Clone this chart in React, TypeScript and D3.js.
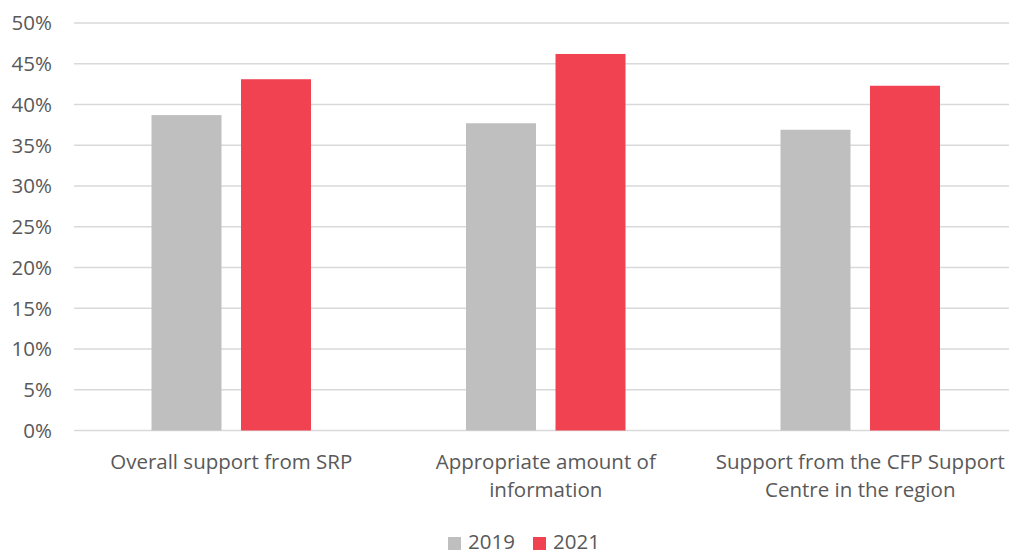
import React from 'react';
import * as d3 from 'd3';

const categories = [
  ['Overall support from SRP'],
  ['Appropriate amount of', 'information'],
  ['Support from the CFP Support', 'Centre in the region'],
];
const years = ['2019', '2021'];
const values2019 = [38.7, 37.7, 36.9];
const values2021 = [43.1, 46.2, 42.3];
const yTicks = [0, 5, 10, 15, 20, 25, 30, 35, 40, 45, 50];

const WIDTH = 1009;
const HEIGHT = 551;
const LEFT = 74;
const RIGHT = 1017.5;
const TOP = 23;
const BOTTOM = 430.5;
const FONT = '"Open Sans", Lato, sans-serif';
const TEXT = '#595959';
const colors = { '2019': '#BFBFBF', '2021': '#F04250' };

export default function App() {
  const x0 = d3.scaleBand<number>()
    .domain(categories.map((_, i) => i))
    .range([LEFT, RIGHT]);
  const x1 = d3.scaleBand<string>()
    .domain(years)
    .range([77.5, 237])
    .paddingInner(0.218);
  const y = d3.scaleLinear().domain([0, 50]).range([BOTTOM, TOP]);

  const series = [
    { year: '2019', values: values2019 },
    { year: '2021', values: values2021 },
  ];

  return (
    <svg width={WIDTH} height={HEIGHT}
      style={{ position: 'absolute', left: 0, top: 0, background: '#fff' }}
      fontFamily={FONT}>
      {yTicks.map(t => (
        <g key={t}>
          <line x1={LEFT} x2={WIDTH} y1={y(t)} y2={y(t)}
            stroke="#D9D9D9" strokeWidth={1.5} />
          <text x={52} y={y(t)} dy="0.36em" textAnchor="end"
            fontSize={20.5} fill={TEXT}>{t + '%'}</text>
        </g>
      ))}
      {series.map(s => (
        <g key={s.year}>
          {s.values.map((v, i) => (
            <rect key={i}
              x={(x0(i) as number) + (x1(s.year) as number)}
              y={y(v)}
              width={x1.bandwidth()}
              height={BOTTOM - y(v)}
              fill={colors[s.year]} />
          ))}
        </g>
      ))}
      {categories.map((lines, i) => (
        <text key={i} textAnchor="middle" fontSize={20.5} fill={TEXT}>
          {lines.map((l, j) => (
            <tspan key={j} x={(x0(i) as number) + x0.bandwidth() / 2}
              y={469 + j * 28}>{l}</tspan>
          ))}
        </text>
      ))}
      {years.map((yr, i) => (
        <g key={yr} transform={`translate(${448 + i * 85},0)`}>
          <rect x={0} y={537} width={13} height={13} fill={colors[yr]} />
          <text x={20} y={549} fontSize={20.5} fill={TEXT}>{yr}</text>
        </g>
      ))}
    </svg>
  );
}
